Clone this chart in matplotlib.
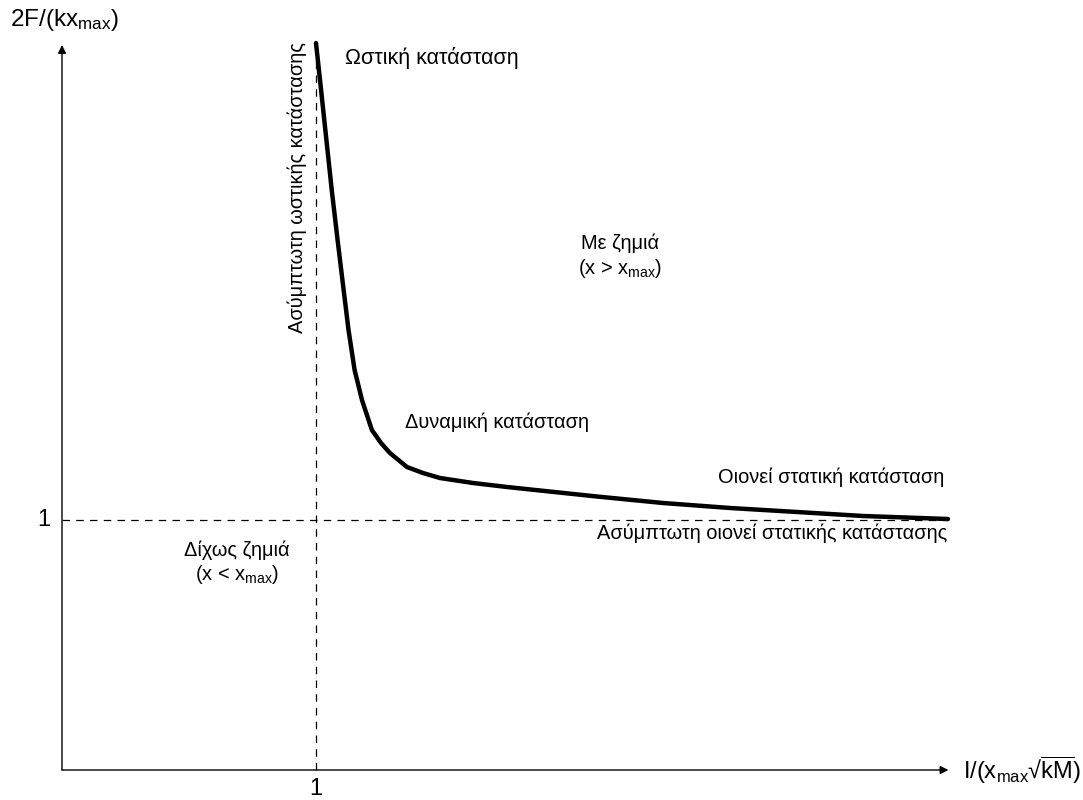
import matplotlib.pyplot as plt
import numpy as np

plt.rcParams['font.family'] = ['Liberation Sans', 'DejaVu Sans']
plt.rcParams['mathtext.fontset'] = 'custom'
plt.rcParams['mathtext.rm'] = 'Liberation Sans'
plt.rcParams['mathtext.default'] = 'regular'

# curve: impulse I/(xmax*sqrt(kM)) vs 2F/(k*xmax)
impulse = [1.000, 1.020, 1.041, 1.062, 1.085, 1.104, 1.128, 1.152, 1.181,
           1.220, 1.256, 1.291, 1.358, 1.421, 1.488, 1.618, 1.752, 1.882,
           2.106, 2.366, 2.630, 2.894, 3.154, 3.488]
force = [2.908, 2.720, 2.520, 2.320, 2.120, 1.960, 1.760, 1.600, 1.480,
         1.360, 1.308, 1.268, 1.212, 1.188, 1.168, 1.148, 1.132, 1.118,
         1.094, 1.068, 1.048, 1.032, 1.016, 1.004]

x_asym = 1.0   # impulsive asymptote
y_asym = 1.0   # quasi-static asymptote
x_end = 3.49
y_end = 2.90

fig = plt.figure(figsize=(10.83, 8), dpi=100)
ax = fig.add_axes([0, 0, 1, 1])
ax.set_xlim(-62 / 254, 1021 / 254)
ax.set_ylim(-30 / 250, 770 / 250)
ax.axis('off')

# axes with arrows
arrow = dict(arrowstyle='-|>', color='black', lw=1, mutation_scale=12,
             shrinkA=0, shrinkB=0)
ax.annotate('', xy=(0, y_end), xytext=(0, 0), arrowprops=arrow)
ax.annotate('', xy=(x_end, 0), xytext=(0, 0), arrowprops=arrow)

# asymptotes
ax.plot([x_asym, x_asym], [0, y_end], color='black', lw=0.9, ls=(0, (6, 5)))
ax.plot([0, x_end], [y_asym, y_asym], color='black', lw=0.9, ls=(0, (6, 5)))

# P-I curve
ax.plot(impulse, force, color='black', lw=3.2, solid_capstyle='round',
        solid_joinstyle='round')

fs = 14.4
ax.text(-0.205, 3.0, r'2F/(kx$_{max}$)', fontsize=17.5, va='center', ha='left')
ax.text(3.547, 0, r'I/(x$_{max}$√$\overline{kM}$)', fontsize=17, va='center', ha='left')
ax.text(-0.07, 1.0, '1', fontsize=17, va='center', ha='center')
ax.text(1.0, -0.075, '1', fontsize=17, va='center', ha='center')

ax.text(1.114, 2.848, 'Ωστική κατάσταση', fontsize=15.5, va='center', ha='left')
ax.text(0.925, 2.328, 'Ασύμπτωτη ωστικής κατάστασης', fontsize=fs, va='center',
        ha='center', rotation=90)
ax.text(2.197, 2.108, 'Με ζημιά', fontsize=fs, va='center', ha='center')
ax.text(2.197, 2.008, r'(x > x$_{max}$)', fontsize=fs, va='center', ha='center')
ax.text(1.35, 1.392, 'Δυναμική κατάσταση', fontsize=fs, va='center', ha='left')
ax.text(3.472, 1.172, 'Οιονεί στατική κατάσταση', fontsize=fs, va='center', ha='right')
ax.text(3.484, 0.948, 'Ασύμπτωτη οιονεί στατικής κατάστασης', fontsize=fs,
        va='center', ha='right')
ax.text(0.689, 0.88, 'Δίχως ζημιά', fontsize=fs, va='center', ha='center')
ax.text(0.689, 0.784, r'(x < x$_{max}$)', fontsize=fs, va='center', ha='center')

fig.savefig('out.png', dpi=100)
